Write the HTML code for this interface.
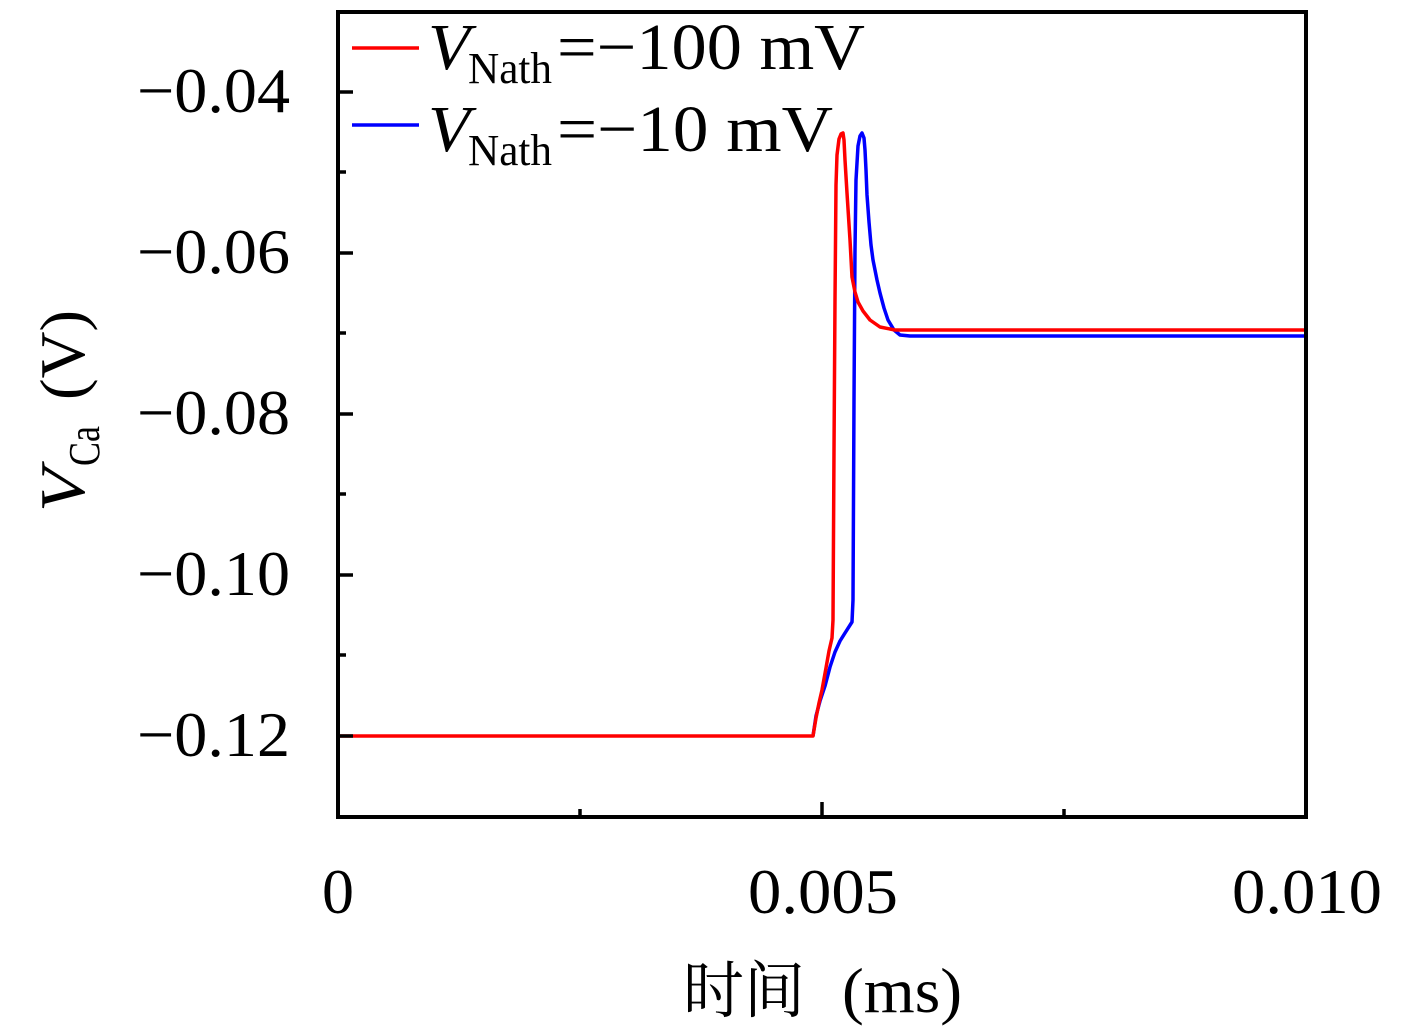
<!DOCTYPE html>
<html><head><meta charset="utf-8"><style>
html,body{margin:0;padding:0;background:#fff;}
svg{display:block;}
text{font-family:"Liberation Serif","Noto Serif CJK SC",serif;fill:#000;}
</style></head><body>
<svg width="1417" height="1035" viewBox="0 0 1417 1035" xmlns="http://www.w3.org/2000/svg">
<rect x="0" y="0" width="1417" height="1035" fill="#fff"/>
<!-- series -->
<polyline fill="none" stroke="#0000ff" stroke-width="3.5" stroke-linejoin="round" points="813,736 816,716 820,701 825,686 830,667 835,652 840,641 845,633 852,622 853,600 854,400 855,250 856,180 858,146 860,136 862,133 864,138 865,150 866,170 867,195 869,222 871,245 873,260 877,280 880,293 884,308 888,320 894,330 900,335 910,336 1306,336"/>
<polyline fill="none" stroke="#ff0000" stroke-width="3.5" stroke-linejoin="round" points="338,736 813,736 816,718 819,703 822,690 826,668 829,651 832,638 833,620 834,450 835,300 836,185 837,155 839,139 841,134 843,133 844,140 845,160 847,193 850,240 852,277 855,292 858,302 863,311 870,320 880,327 895,330 1306,330"/>
<!-- frame -->
<rect x="338" y="12" width="968" height="805" fill="none" stroke="#000" stroke-width="4"/>
<!-- ticks -->
<g stroke="#000" stroke-width="3.5">
<line x1="338" y1="92" x2="353" y2="92"/>
<line x1="338" y1="253" x2="353" y2="253"/>
<line x1="338" y1="414" x2="353" y2="414"/>
<line x1="338" y1="575" x2="353" y2="575"/>
<line x1="338" y1="736" x2="353" y2="736"/>
<line x1="338" y1="172" x2="346" y2="172"/>
<line x1="338" y1="333" x2="346" y2="333"/>
<line x1="338" y1="494" x2="346" y2="494"/>
<line x1="338" y1="655" x2="346" y2="655"/>
<line x1="822" y1="817" x2="822" y2="802"/>
<line x1="580" y1="817" x2="580" y2="809"/>
<line x1="1064" y1="817" x2="1064" y2="809"/>
</g>
<!-- y tick labels -->
<g font-size="64" text-anchor="end">
<text x="290" y="112" textLength="153" lengthAdjust="spacingAndGlyphs">−0.04</text>
<text x="290" y="273" textLength="153" lengthAdjust="spacingAndGlyphs">−0.06</text>
<text x="290" y="434" textLength="153" lengthAdjust="spacingAndGlyphs">−0.08</text>
<text x="290" y="595" textLength="153" lengthAdjust="spacingAndGlyphs">−0.10</text>
<text x="290" y="756" textLength="153" lengthAdjust="spacingAndGlyphs">−0.12</text>
</g>
<!-- x tick labels -->
<g font-size="64">
<text x="322" y="913" textLength="32" lengthAdjust="spacingAndGlyphs">0</text>
<text x="748" y="913" textLength="150" lengthAdjust="spacingAndGlyphs">0.005</text>
<text x="1232" y="913" textLength="150" lengthAdjust="spacingAndGlyphs">0.010</text>
</g>
<!-- x label -->
<text x="683" y="1012" font-size="62" font-family="Noto Serif CJK SC, serif" textLength="122" lengthAdjust="spacingAndGlyphs">时间</text>
<text x="842" y="1012" font-size="64" textLength="120" lengthAdjust="spacingAndGlyphs">(ms)</text>
<!-- y label -->
<g transform="translate(84,512) rotate(-90)">
<text x="0" y="0" font-size="64" font-style="italic" textLength="44" lengthAdjust="spacingAndGlyphs">V</text>
<text x="46" y="15" font-size="44" textLength="40" lengthAdjust="spacingAndGlyphs">Ca</text>
<text x="112" y="0" font-size="64" textLength="90" lengthAdjust="spacingAndGlyphs">(V)</text>
</g>
<!-- legend -->
<line x1="352" y1="48" x2="419" y2="48" stroke="#ff0000" stroke-width="3.5"/>
<line x1="352" y1="125" x2="419" y2="125" stroke="#0000ff" stroke-width="3.5"/>
<text x="428" y="69" font-size="66" font-style="italic" textLength="42" lengthAdjust="spacingAndGlyphs">V</text>
<text x="468" y="83" font-size="44" textLength="84" lengthAdjust="spacingAndGlyphs">Nath</text>
<text x="557" y="69" font-size="66" textLength="308" lengthAdjust="spacingAndGlyphs">=−100 mV</text>
<text x="428" y="151" font-size="66" font-style="italic" textLength="42" lengthAdjust="spacingAndGlyphs">V</text>
<text x="468" y="165" font-size="44" textLength="84" lengthAdjust="spacingAndGlyphs">Nath</text>
<text x="557" y="151" font-size="66" textLength="276" lengthAdjust="spacingAndGlyphs">=−10 mV</text>
</svg>
</body></html>
